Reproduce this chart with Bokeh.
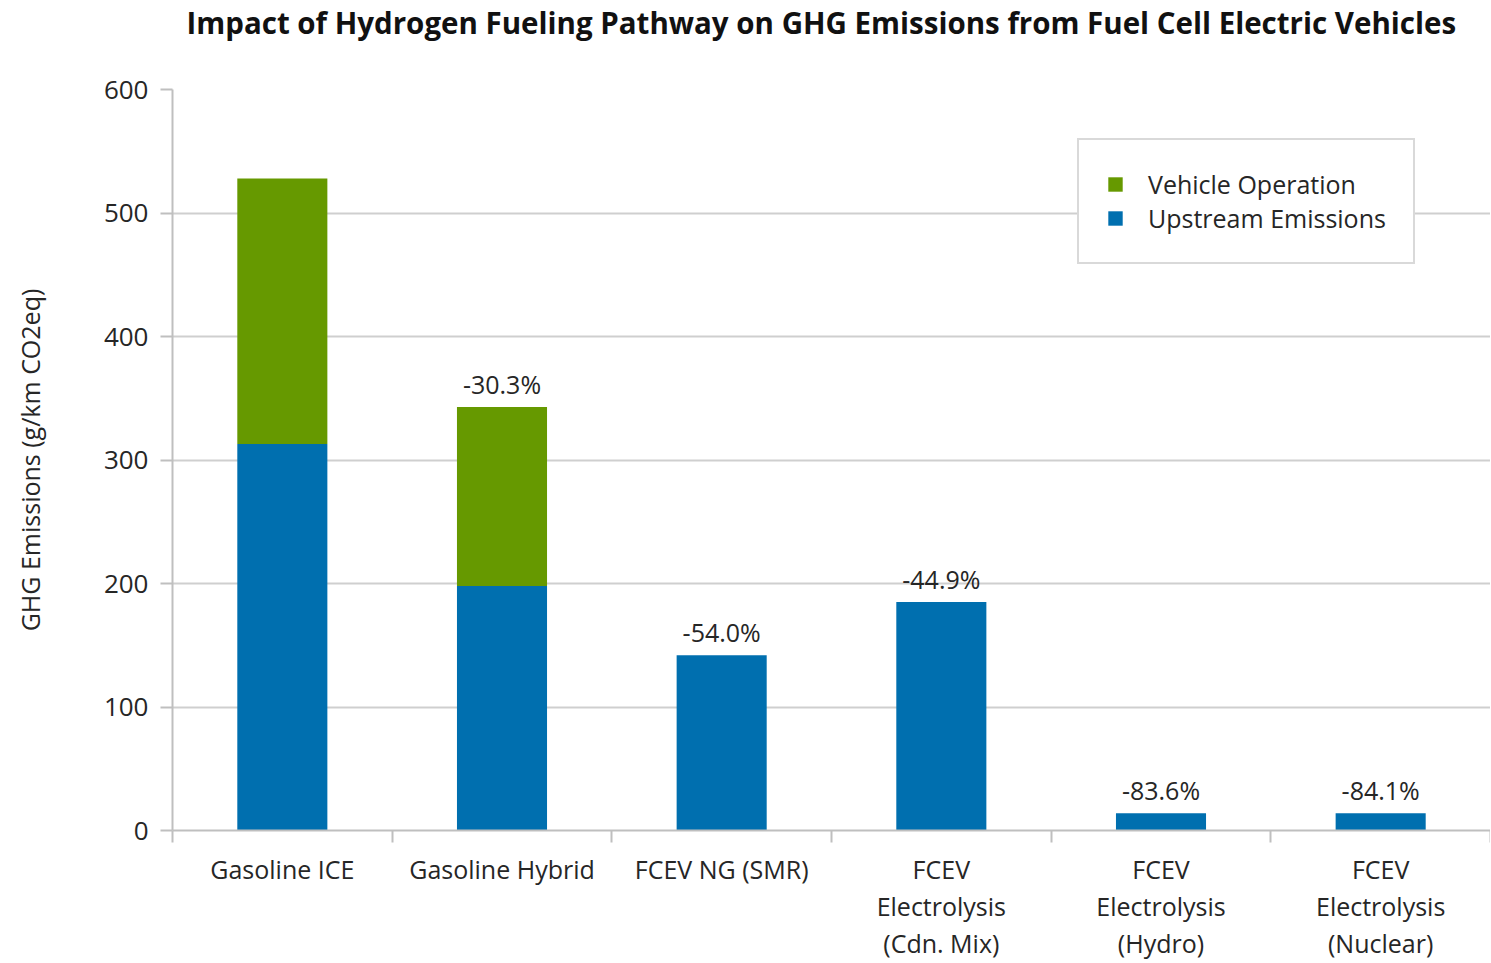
from bokeh.plotting import figure
from bokeh.models import (Range1d, FixedTicker, Legend, LegendItem, Title, ColumnDataSource)
from bokeh.core.properties import value
from bokeh.embed import file_html
from bokeh.resources import INLINE

categories = ["Gasoline ICE", "Gasoline Hybrid", "FCEV NG (SMR)",
              "FCEV\nElectrolysis\n(Cdn. Mix)", "FCEV\nElectrolysis\n(Hydro)",
              "FCEV\nElectrolysis\n(Nuclear)"]
upstream = [313, 198, 142, 185, 14, 14]
vehicle_operation = [215, 145, 0, 0, 0, 0]
change_labels = ["", "-30.3%", "-54.0%", "-44.9%", "-83.6%", "-84.1%"]
y_ticks = [0, 100, 200, 300, 400, 500, 600]

FONT = "Open Sans"
BLUE = "#006FAF"
GREEN = "#669900"
TXT = "#262626"
GRID = "#cfcfcf"

xs = list(range(1, len(categories) + 1))
totals = [u + v for u, v in zip(upstream, vehicle_operation)]

src = ColumnDataSource(dict(x=xs, upstream=upstream, vehicle=vehicle_operation,
                            total=totals, lab=change_labels))

p = figure(width=1490, height=963, output_backend="svg", toolbar_location=None,
           x_range=Range1d(0.5, 6.5), y_range=Range1d(0, 600),
           min_border_left=172, min_border_right=0, min_border_top=88,
           min_border_bottom=128, outline_line_color=None)

# spacer title (closest to the frame), then the real title above it
spacer = Title(text=" ", text_font_size="2px", standoff=42)
p.add_layout(spacer, "above")
title = Title(text="Impact of Hydrogen Fueling Pathway on GHG Emissions from Fuel Cell Electric Vehicles",
              align="left", offset=14, vertical_align="middle", standoff=0,
              text_font=FONT, text_font_size="29.5px", text_font_style="bold",
              text_color="#111111")
p.add_layout(title, "above")

r = p.vbar_stack(["upstream", "vehicle"], x="x", width=0.41, source=src,
                 color=[BLUE, GREEN], line_color=None)

p.text(x="x", y="total", text="lab", source=src, text_align="center",
       text_baseline="bottom", y_offset=-6, text_font=value(FONT),
       text_font_size="25px", text_color=TXT)

# axes
p.xaxis.ticker = FixedTicker(ticks=xs, minor_ticks=[x + 0.5 for x in range(0, 7)])
p.xaxis.major_label_overrides = {x: c for x, c in zip(xs, categories)}
p.xaxis.major_tick_line_color = None
p.xaxis.minor_tick_line_color = "#bfbfbf"
p.xaxis.minor_tick_line_width = 2
p.xaxis.minor_tick_out = 12
p.xaxis.minor_tick_in = 0
p.xaxis.axis_line_color = "#bfbfbf"
p.xaxis.axis_line_width = 2
p.xaxis.major_label_text_font = FONT
p.xaxis.major_label_text_font_size = "25px"
p.xaxis.major_label_text_color = TXT
p.xaxis.major_label_text_line_height = 1.1
p.xaxis.major_label_standoff = 9

p.yaxis.ticker = FixedTicker(ticks=y_ticks)
p.yaxis.minor_tick_line_color = None
p.yaxis.major_tick_out = 12
p.yaxis.major_tick_in = 0
p.yaxis.major_tick_line_color = "#bfbfbf"
p.yaxis.major_tick_line_width = 2
p.yaxis.axis_line_color = "#bfbfbf"
p.yaxis.axis_line_width = 2
p.yaxis.major_label_text_font = FONT
p.yaxis.major_label_text_font_size = "26px"
p.yaxis.major_label_text_color = TXT
p.yaxis.major_label_standoff = 12
p.yaxis.axis_label = "GHG Emissions (g/km CO2eq)"
p.yaxis.axis_label_text_font = FONT
p.yaxis.axis_label_text_font_size = "25px"
p.yaxis.axis_label_text_font_style = "normal"
p.yaxis.axis_label_text_color = TXT
p.yaxis.axis_label_standoff = 54

p.xgrid.grid_line_color = None
p.ygrid.grid_line_color = GRID
p.ygrid.grid_line_width = 2

legend = Legend(items=[LegendItem(label="Vehicle Operation", renderers=[r[1]]),
                       LegendItem(label="Upstream Emissions", renderers=[r[0]])],
                location=(905, 566), orientation="vertical",
                border_line_color="#b4b4b4", border_line_width=2,
                background_fill_color="white", background_fill_alpha=1,
                padding=27, spacing=0, margin=0,
                glyph_width=18, glyph_height=18, label_standoff=24,
                label_text_font=FONT, label_text_font_size="25px",
                label_text_color=TXT, label_height=26)
p.add_layout(legend, "center")

open("out.html", "w").write(file_html(p, INLINE))
